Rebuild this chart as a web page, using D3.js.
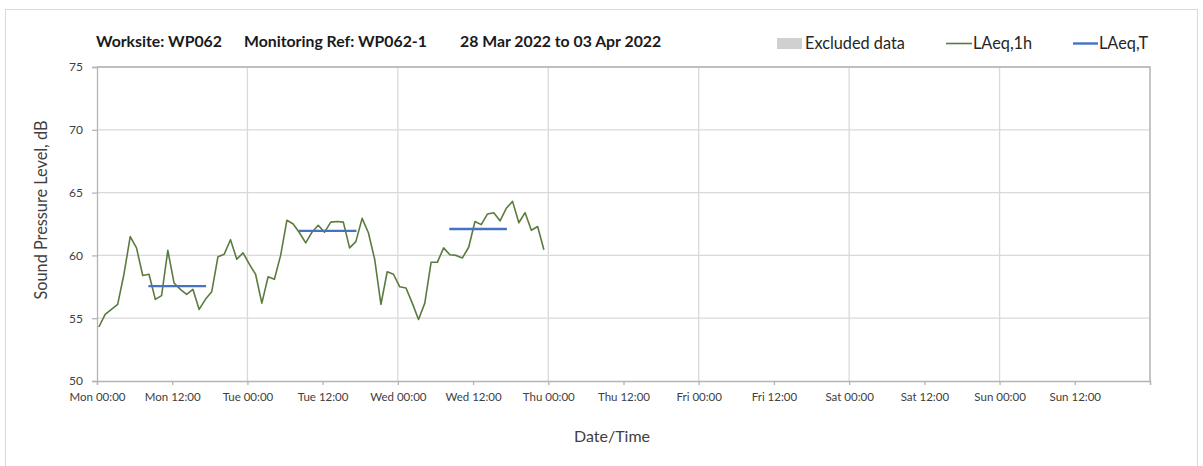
<!DOCTYPE html>
<html>
<head>
<meta charset="utf-8">
<script src="https://cdn.jsdelivr.net/npm/d3@7"></script>
<style>
  body { margin: 0; background: #fff; }
  svg { display: block; font-family: Corbel, Lato, "Open Sans", sans-serif; }
</style>
</head>
<body>
<svg id="chart" width="1203" height="466"></svg>
<script>
// data

var titleParts = ["Worksite: WP062", "Monitoring Ref: WP062-1", "28 Mar 2022 to 03 Apr 2022"];
var legendLabels = ["Excluded data", "LAeq,1h", "LAeq,T"];

var weekStart = new Date(2022, 2, 28, 0, 0);
var weekEnd = new Date(2022, 3, 4, 0, 0);
var firstReading = new Date(2022, 2, 28, 0, 18);

// hourly LAeq values, dB
var laeq1h = [
  54.3, 55.3, 55.7, 56.1, 58.5, 61.5, 60.6, 58.4, 58.5, 56.5, 56.8, 60.4,
  57.8, 57.3, 56.9, 57.3, 55.7, 56.5, 57.1, 59.9, 60.1, 61.25, 59.7, 60.2,
  59.3, 58.5, 56.2, 58.3, 58.1, 60.0, 62.8, 62.5, 61.8, 61.0, 61.85, 62.4,
  61.85, 62.65, 62.7, 62.65, 60.6, 61.1, 62.95, 61.8, 59.7, 56.1, 58.7, 58.5,
  57.5, 57.4, 56.2, 54.9, 56.2, 59.45, 59.45, 60.6, 60.05, 60.0, 59.8, 60.65,
  62.7, 62.45, 63.3, 63.4, 62.75, 63.75, 64.3, 62.6, 63.4, 62.0, 62.3, 60.45
];

// LAeq,T periods
var periodStart = ["2022-03-28T08:12", "2022-03-29T08:12", "2022-03-30T08:12"];
var periodEnd   = ["2022-03-28T17:24", "2022-03-29T17:24", "2022-03-30T17:24"];
var laeqT = [57.55, 61.95, 62.1];

var yTicks = [50, 55, 60, 65, 70, 75];

var svg = d3.select("#chart");
var margin = {left: 97, right: 53, top: 67, bottom: 85};
var W = 1203, H = 466;

var x = d3.scaleTime().domain([weekStart, weekEnd]).range([margin.left, W - margin.right]);
var y = d3.scaleLinear().domain([50, 75]).range([H - margin.bottom, margin.top]);

var hourly = laeq1h.map(function(v, i){
  return {t: d3.timeHour.offset(firstReading, i), v: v};
});
var periods = laeqT.map(function(v, i){
  return {t0: new Date(periodStart[i]), t1: new Date(periodEnd[i]), v: v};
});

// outer frame
svg.append("rect")
    .attr("x", 5.5).attr("y", 9.5)
    .attr("width", 1192).attr("height", 470)
    .attr("fill", "none")
    .attr("stroke", "#d9d9d9");

// gridlines
var grid = svg.append("g");
grid.selectAll("line.h")
    .data(yTicks.slice(1))
    .enter().append("line")
    .attr("x1", margin.left).attr("x2", W - margin.right)
    .attr("y1", d => y(d)).attr("y2", d => y(d))
    .attr("stroke", "#d9d9d9").attr("stroke-width", 1.3);
grid.selectAll("line.v")
    .data(d3.timeDay.range(d3.timeDay.offset(weekStart, 1), d3.timeDay.offset(weekEnd, 1)))
    .enter().append("line")
    .attr("x1", d => x(d)).attr("x2", d => x(d))
    .attr("y1", margin.top).attr("y2", H - margin.bottom)
    .attr("stroke", "#d9d9d9").attr("stroke-width", 1.3);

// plot border top/right
svg.append("path")
    .attr("d", `M${margin.left},${margin.top}H${W - margin.right}V${H - margin.bottom}`)
    .attr("fill", "none").attr("stroke", "#b4b4b4").attr("stroke-width", 1.3);

// axes
var xAxis = d3.axisBottom(x)
    .ticks(d3.timeHour.every(12))
    .tickFormat(d3.timeFormat("%a %H:%M"))
    .tickSize(4).tickPadding(8);
var gx = svg.append("g")
    .attr("transform", `translate(0,${H - margin.bottom})`)
    .call(xAxis);
// drop the last label (Mon 00:00 of next week)
gx.selectAll(".tick text").filter(d => +d === +weekEnd).remove();

var yAxis = d3.axisLeft(y).tickValues(yTicks).tickSize(5).tickPadding(9);
var gy = svg.append("g")
    .attr("transform", `translate(${margin.left},0)`)
    .call(yAxis);

[gx, gy].forEach(function(g){
  g.select(".domain").attr("stroke", "#b4b4b4").attr("stroke-width", 1.3);
  g.selectAll(".tick line").attr("stroke", "#b4b4b4").attr("stroke-width", 1.3);
  g.selectAll(".tick text")
      .attr("fill", "#404040")
      .attr("font-family", "Corbel, Lato, sans-serif");
});
gx.selectAll(".tick text").attr("font-size", 11.5);
gy.selectAll(".tick text").attr("font-size", 12);

// LAeq,1h line
svg.append("path")
    .datum(hourly)
    .attr("fill", "none")
    .attr("stroke", "#5b7b3e")
    .attr("stroke-width", 1.6)
    .attr("stroke-linejoin", "round")
    .attr("d", d3.line().x(d => x(d.t)).y(d => y(d.v)));

// LAeq,T segments
svg.append("g").selectAll("line")
    .data(periods)
    .enter().append("line")
    .attr("x1", d => x(d.t0)).attr("x2", d => x(d.t1))
    .attr("y1", d => y(d.v)).attr("y2", d => y(d.v))
    .attr("stroke", "#4472c4")
    .attr("stroke-width", 2.4);

// title
var titleX = [96, 244, 460];
svg.append("g").selectAll("text")
    .data(titleParts)
    .enter().append("text")
    .attr("x", (d, i) => titleX[i])
    .attr("y", 47)
    .attr("font-size", 15.8)
    .attr("font-weight", "bold")
    .attr("fill", "#1a1a1a")
    .text(d => d);

// legend
var leg = svg.append("g").attr("font-size", 16.3).attr("fill", "#262626");
leg.append("rect")
    .attr("x", 777).attr("y", 38).attr("width", 25).attr("height", 11)
    .attr("fill", "#d0d0d0");
leg.append("text").attr("x", 805).attr("y", 49).attr("fill", "#262626").text(legendLabels[0]);
leg.append("line")
    .attr("x1", 946).attr("x2", 972).attr("y1", 43.5).attr("y2", 43.5)
    .attr("stroke", "#5b7b3e").attr("stroke-width", 1.6);
leg.append("text").attr("x", 973).attr("y", 49).attr("fill", "#262626").text(legendLabels[1]);
leg.append("line")
    .attr("x1", 1073).attr("x2", 1098).attr("y1", 43.5).attr("y2", 43.5)
    .attr("stroke", "#4472c4").attr("stroke-width", 2.4);
leg.append("text").attr("x", 1099).attr("y", 49).attr("fill", "#262626").text(legendLabels[2]);

// axis titles
svg.append("text")
    .attr("transform", "translate(41,210) rotate(-90)")
    .attr("text-anchor", "middle")
    .attr("dy", "0.35em")
    .attr("font-size", 16.3)
    .attr("fill", "#404040")
    .text("Sound Pressure Level, dB");

svg.append("text")
    .attr("x", 612).attr("y", 442)
    .attr("text-anchor", "middle")
    .attr("font-size", 16)
    .attr("fill", "#404040")
    .text("Date/Time");
</script>
</body>
</html>
